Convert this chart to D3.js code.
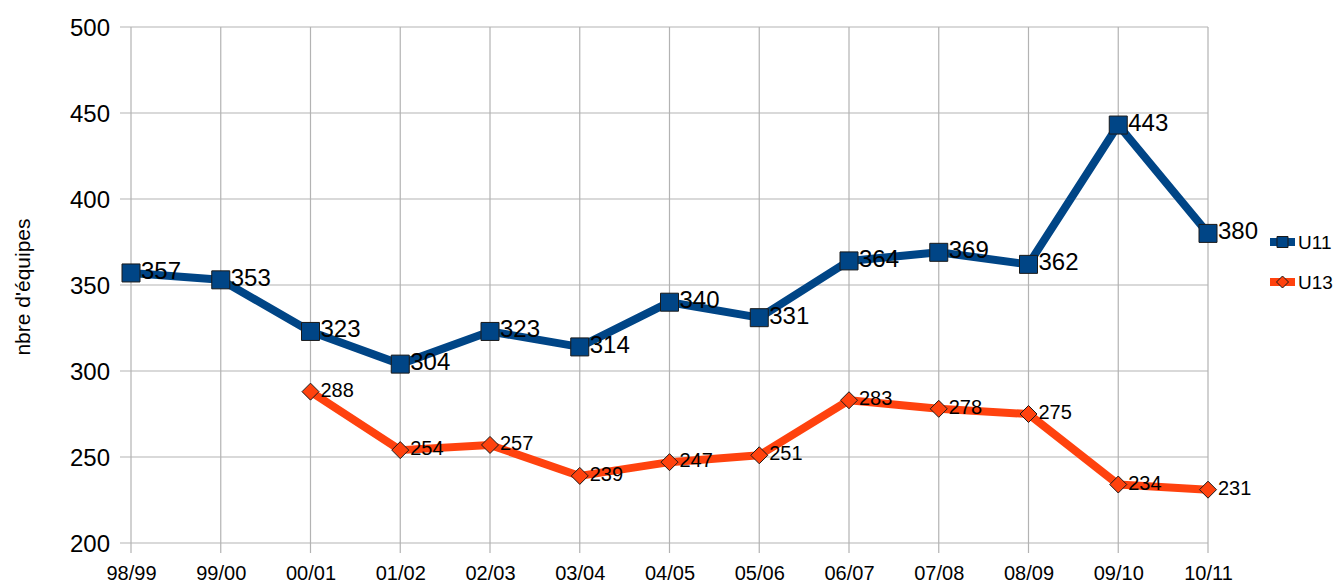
<!DOCTYPE html>
<html>
<head>
<meta charset="utf-8">
<script src="https://cdn.jsdelivr.net/npm/d3@7"></script>
<style>
    body { margin: 0; background: #fff; }
    svg text { font-family: "Liberation Sans", Arial, sans-serif; fill: #000; }
</style>
</head>
<body>
<div id="chart"></div>
<script>
    var seasons = ["98/99", "99/00", "00/01", "01/02", "02/03", "03/04", "04/05",
                   "05/06", "06/07", "07/08", "08/09", "09/10", "10/11"];
    var u11 = [357, 353, 323, 304, 323, 314, 340, 331, 364, 369, 362, 443, 380];
    var u13 = [null, null, 288, 254, 257, 239, 247, 251, 283, 278, 275, 234, 231];
    var yTicks = [200, 250, 300, 350, 400, 450, 500];

    var width = 1336, height = 585;
    var margin = {top: 27, right: 128, bottom: 42, left: 131};
    var w = width - margin.left - margin.right,
        h = height - margin.top - margin.bottom;

    var svg = d3.select("#chart")
        .append("svg")
        .attr("width", width)
        .attr("height", height);

    var g = svg.append("g")
        .attr("transform", "translate(" + margin.left + "," + margin.top + ")");

    var x = d3.scalePoint()
        .domain(seasons)
        .range([0, w]);

    var y = d3.scaleLinear()
        .domain([200, 500])
        .range([h, 0]);

    // grid lines
    g.append("g")
        .selectAll("line.hgrid")
        .data(yTicks)
        .enter()
        .append("line")
        .attr("x1", -11)
        .attr("x2", w)
        .attr("y1", function (d) { return y(d); })
        .attr("y2", function (d) { return y(d); })
        .style("stroke", "#b3b3b3")
        .style("stroke-width", 1.2);

    g.append("g")
        .selectAll("line.vgrid")
        .data(seasons)
        .enter()
        .append("line")
        .attr("x1", function (d) { return x(d); })
        .attr("x2", function (d) { return x(d); })
        .attr("y1", 0)
        .attr("y2", h + 10)
        .style("stroke", "#b3b3b3")
        .style("stroke-width", 1.2);

    // Y axis labels
    var yAxis = g.append("g")
        .call(d3.axisLeft(y).tickValues(yTicks).tickSize(0).tickPadding(21));
    yAxis.select(".domain").remove();
    yAxis.selectAll("text")
        .style("font-size", "24px")
        .attr("dy", "0.35em");

    // X axis labels
    var xAxis = g.append("g")
        .attr("transform", "translate(0," + h + ")")
        .call(d3.axisBottom(x).tickSize(0).tickPadding(23));
    xAxis.select(".domain").remove();
    xAxis.selectAll("text")
        .style("font-size", "20px");

    // text label for the y axis
    svg.append("text")
        .attr("transform", "translate(30," + (margin.top + h / 2 + 2) + ") rotate(-90)")
        .style("text-anchor", "middle")
        .style("font-size", "21px")
        .text("nbre d'équipes");

    var line = d3.line()
        .defined(function (d) { return d.v !== null; })
        .x(function (d) { return x(d.s); })
        .y(function (d) { return y(d.v); });

    var series = [
        {name: "U11", values: u11, color: "#004586", shape: "square", lw: 8, size: 18, font: 24},
        {name: "U13", values: u13, color: "#ff420e", shape: "diamond", lw: 8, size: 17, font: 20}
    ];

    series.forEach(function (s) {
        var pts = seasons.map(function (c, i) { return {s: c, v: s.values[i]}; });
        var valid = pts.filter(function (d) { return d.v !== null; });

        g.append("path")
            .datum(pts)
            .attr("d", line)
            .style("fill", "none")
            .style("stroke", s.color)
            .style("stroke-width", s.lw)
            .style("stroke-linejoin", "round");

        g.append("g")
            .selectAll("path.mark")
            .data(valid)
            .enter()
            .append("path")
            .attr("transform", function (d) { return "translate(" + x(d.s) + "," + y(d.v) + ")"; })
            .attr("d", function () {
                var r = s.size / 2;
                if (s.shape === "square") return "M" + -r + "," + -r + "h" + 2 * r + "v" + 2 * r + "h" + -2 * r + "Z";
                return "M0," + -r + "L" + r + ",0L0," + r + "L" + -r + ",0Z";
            })
            .style("fill", s.color)
            .style("stroke", "#1a1a1a")
            .style("stroke-width", 1);

        g.append("g")
            .selectAll("text.val")
            .data(valid)
            .enter()
            .append("text")
            .attr("x", function (d) { return x(d.s) + 10; })
            .attr("y", function (d) { return y(d.v); })
            .attr("dy", "0.25em")
            .style("font-size", s.font + "px")
            .text(function (d) { return d.v; });
    });

    // legend
    var legend = svg.append("g")
        .attr("transform", "translate(1270,242)");

    series.forEach(function (s, i) {
        var lg = legend.append("g")
            .attr("transform", "translate(0," + (i * 40) + ")");
        lg.append("rect")
            .attr("x", 0)
            .attr("y", -4)
            .attr("width", 25)
            .attr("height", 8)
            .style("fill", s.color);
        lg.append("path")
            .attr("transform", "translate(12.5,0)")
            .attr("d", s.shape === "square" ? "M-5.5,-5.5h11v11h-11Z" : "M0,-6L6,0L0,6L-6,0Z")
            .style("fill", s.color)
            .style("stroke", "#1a1a1a")
            .style("stroke-width", 1);
        lg.append("text")
            .attr("x", 28)
            .attr("y", 0)
            .attr("dy", "0.35em")
            .style("font-size", "19px")
            .text(s.name);
    });
</script>
</body>
</html>
